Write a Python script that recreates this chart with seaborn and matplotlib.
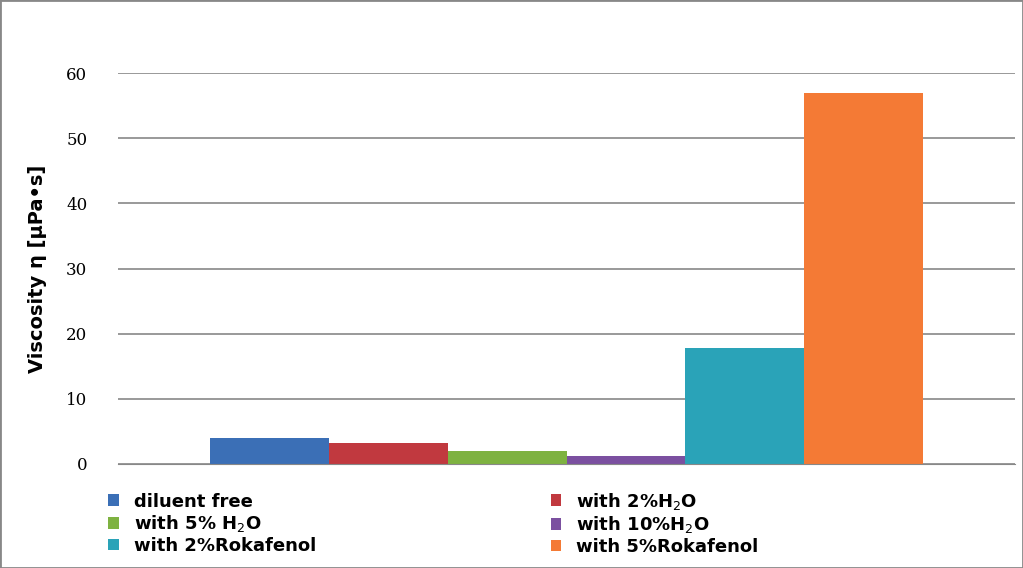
import matplotlib
matplotlib.use("Agg")
import matplotlib.pyplot as plt
import seaborn as sns
import pandas as pd
from matplotlib.patches import Patch

categories = ["diluent free", "with 2%H$_2$O", "with 5% H$_2$O", "with 10%H$_2$O",
              "with 2%Rokafenol", "with 5%Rokafenol"]
values = [4.0, 3.2, 2.0, 1.2, 17.8, 57.0]
colors = ["#3b6fb6", "#c1393f", "#7eb241", "#7b50a0", "#2aa3b8", "#f47a35"]
yticks = [0, 10, 20, 30, 40, 50, 60]

df = pd.DataFrame({"cat": categories, "val": values})
fig = plt.figure(figsize=(10.23, 5.68), dpi=100)
ax = fig.add_axes([118/1023, 1-464/568, 897/1023, (464-73)/568])
sns.barplot(data=df, x="cat", y="val", hue="cat", palette=colors, width=1.0,
            legend=False, ax=ax, saturation=1)
ax.set_xlim(-1.27, 6.27)
ax.set_ylim(0, 60)
ax.set_yticks(yticks)
ax.set_xticks([])
ax.set_xlabel("")
ax.set_ylabel("Viscosity η [μPa•s]", fontsize=14, fontweight="bold", labelpad=14)
ax.yaxis.grid(True, color="#888888", lw=1.2)
ax.set_axisbelow(True)
for s in ["top", "right", "left"]:
    ax.spines[s].set_visible(False)
ax.spines["bottom"].set_color("#888888")
ax.tick_params(axis="y", length=0, labelsize=12, pad=22)
for t in ax.get_yticklabels():
    t.set_fontfamily("DejaVu Serif")

order = [0, 2, 4, 1, 3, 5]
handles = [Patch(facecolor=colors[i], label=categories[i]) for i in order]
fig.legend(handles=handles, ncol=2, loc="upper left", bbox_to_anchor=(0.09, 0.165),
           frameon=False, prop={"weight": "bold", "size": 13}, handlelength=0.6,
           handleheight=0.6, columnspacing=13, labelspacing=0.15, handletextpad=0.8)
fig.patches.append(plt.Rectangle((0, 0), 1, 1, transform=fig.transFigure,
                                 fill=False, edgecolor="#888888", lw=2))
fig.savefig("out.png", dpi=100)
